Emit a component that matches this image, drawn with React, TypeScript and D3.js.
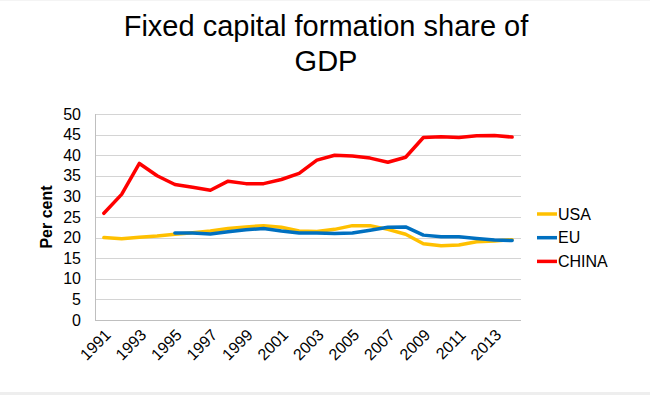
import React from 'react';
import * as d3 from 'd3';

const years = d3.range(1991, 2015).map(String);
const usa = [20.0, 19.7, 20.1, 20.4, 20.8, 21.2, 21.6, 22.2, 22.6, 22.9, 22.5, 21.6, 21.5, 22.0, 22.9, 22.9, 22.0, 20.8, 18.5, 18.0, 18.2, 19.0, 19.2, 19.5];
const eu = [null, null, null, null, 21.1, 21.1, 20.9, 21.4, 21.9, 22.2, 21.6, 21.1, 21.1, 21.0, 21.1, 21.8, 22.5, 22.6, 20.6, 20.2, 20.2, 19.8, 19.4, 19.3];
const china = [25.9, 30.5, 38.0, 35.0, 32.9, 32.2, 31.5, 33.7, 33.1, 33.1, 34.1, 35.6, 38.8, 40.0, 39.8, 39.3, 38.3, 39.5, 44.3, 44.5, 44.3, 44.7, 44.8, 44.4];
const yTicks = [0, 5, 10, 15, 20, 25, 30, 35, 40, 45, 50];
const seriesNames = ['USA', 'EU', 'CHINA'];
const seriesColors = ['#ffc000', '#0070c0', '#ff0000'];

const W = 650, H = 395;
const plot = { left: 95, right: 521, top: 114, bottom: 320 };
const font = '"Liberation Sans", Arial, sans-serif';

export default function App() {
  const x = d3.scaleBand().domain(years).range([plot.left, plot.right]);
  const y = d3.scaleLinear().domain([0, 50]).range([plot.bottom, plot.top]);
  const cx = (i: number) => (x(years[i]) as number) + x.bandwidth() / 2;
  const line = d3
    .line<number | null>()
    .defined(d => d != null)
    .x((d, i) => cx(i))
    .y(d => y(d as number));
  const allSeries = [usa, eu, china];

  return (
    <svg width={W} height={H} style={{ position: 'absolute', left: 0, top: 0, background: '#fff' }}>
      <rect x={0} y={0} width={W} height={H} fill="#fff" />
      <rect x={0} y={392} width={W} height={3} fill="#eeeeee" />
      <rect x={0} y={0} width={W} height={1} fill="#f4f4f4" />
      <g style={{ fontFamily: font }}>
        <text x={326} y={36} textAnchor="middle" style={{ fontSize: 29 }} fill="#000">
          Fixed capital formation share of
        </text>
        <text x={326} y={71} textAnchor="middle" style={{ fontSize: 29 }} fill="#000">
          GDP
        </text>
        {yTicks.map(t => (
          <g key={t}>
            <line
              x1={plot.left}
              x2={plot.right}
              y1={Math.round(y(t)) + 0.5}
              y2={Math.round(y(t)) + 0.5}
              stroke={t === 0 ? '#bfbfbf' : '#d4d4d4'}
              strokeWidth={1}
            />
            <text x={81} y={y(t)} dy="0.35em" textAnchor="end" style={{ fontSize: 16 }} fill="#000">
              {t}
            </text>
          </g>
        ))}
        <line x1={plot.left + 0.5} x2={plot.left + 0.5} y1={plot.top} y2={plot.bottom} stroke="#bfbfbf" />
        <text
          transform={`translate(52, 217) rotate(-90)`}
          textAnchor="middle"
          style={{ fontSize: 16, fontWeight: 'bold' }}
          fill="#000"
        >
          Per cent
        </text>
        {years.map((yr, i) =>
          i % 2 === 0 ? (
            <text
              key={yr}
              transform={`translate(${cx(i) + 4}, ${plot.bottom + 12}) rotate(-45)`}
              textAnchor="end"
              dy="0.35em"
              style={{ fontSize: 16 }}
              fill="#000"
            >
              {yr}
            </text>
          ) : null
        )}
        {allSeries.map((s, k) => (
          <path
            key={seriesNames[k]}
            d={line(s) || ''}
            fill="none"
            stroke={seriesColors[k]}
            strokeWidth={3.5}
            strokeLinejoin="round"
            strokeLinecap="round"
          />
        ))}
        {seriesNames.map((n, k) => (
          <g key={n} transform={`translate(537, ${214 + k * 23.7})`}>
            <line x1={0} x2={20} y1={0} y2={0} stroke={seriesColors[k]} strokeWidth={3.5} />
            <text x={21} y={0} dy="0.35em" style={{ fontSize: 16 }} fill="#000">
              {n}
            </text>
          </g>
        ))}
      </g>
    </svg>
  );
}
